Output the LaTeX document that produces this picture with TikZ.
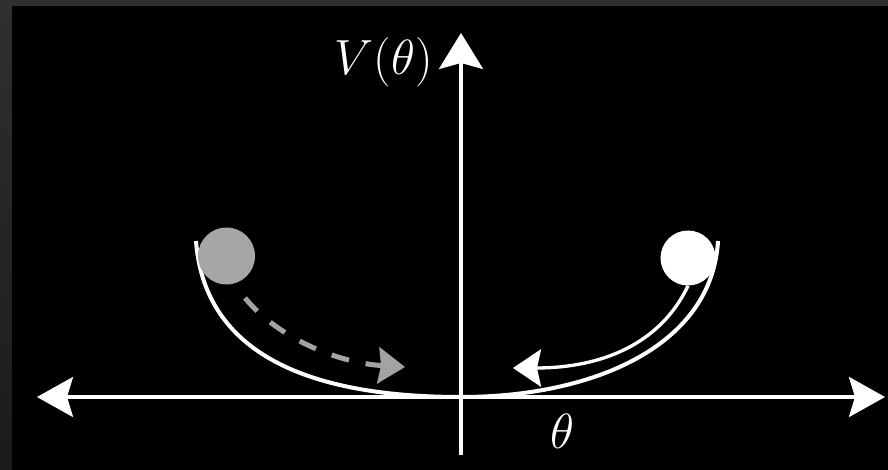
\documentclass[tikz,border=0pt]{standalone}
\usepackage{graphicx}
\usetikzlibrary{arrows.meta}
\definecolor{bandgray}{HTML}{2F2F2F}
\definecolor{banddark}{HTML}{1B1B1B}
\definecolor{ballgray}{HTML}{A6A6A6}
\definecolor{arrowgray}{HTML}{A3A3A3}
\newcommand{\biglbl}[1]{\scalebox{1.49}{\Huge #1}}
\begin{document}
\begin{tikzpicture}[x=0.75pt,y=-0.75pt,
  bigtip/.tip={Stealth[length=27pt,width=30pt,inset=4.5pt]},
  uptip/.tip={Stealth[length=27pt,width=33pt,inset=4.5pt]},
  axisline/.style={white, line width=2.4pt, bigtip-bigtip},
  axisup/.style={white, line width=2.4pt, -uptip},
  potential/.style={white, line width=3pt},
  ball/.style={circle, draw=none, inner sep=0pt},
  grayarrow/.style={arrowgray, line width=3.75pt, dash pattern=on 13.5pt off 12.75pt,
    -{Stealth[length=20pt,width=27pt,inset=2pt]}},
  whitearrow/.style={white, line width=2.5pt, -{Stealth[length=21pt,width=28pt,inset=3pt]}},
  lbl/.style={white, inner sep=0pt}]
\fill[bandgray] (0,0) rectangle (888,470);
\shade[top color=bandgray, bottom color=banddark] (0,6) rectangle (12,470);
\fill[black] (12,6) rectangle (888,470);
\useasboundingbox (0,0) rectangle (888,470);
% axes
\coordinate (xl) at (37,397);
\coordinate (xr) at (885,397);
\coordinate (yb) at (461,455);
\coordinate (yt) at (461,33);
\draw[axisline] (xl) -- (xr);
\draw[axisup] (yb) -- (yt);
\node[lbl, anchor=base east] (vlab) at (433,75) {\biglbl{$V(\theta)$}};
\node[lbl, anchor=base west] (thlab) at (550,448) {\biglbl{$\theta$}};
% potential curve
\coordinate (lt) at (196,241);
\coordinate (o) at (461,397);
\coordinate (rt) at (718,241);
\draw[potential] (lt) .. controls (205,360) and (320,397) .. (o)
  .. controls (595,397) and (712,345) .. (rt);
% balls
\node[ball, fill=ballgray, minimum size=42.75pt] (gb) at (226.5,256) {};
\node[ball, fill=white, minimum size=41.25pt] (wb) at (688,258) {};
% motion arrows
\coordinate (gs) at (245,298);
\coordinate (ge) at (405,367);
\draw[grayarrow] (gs) .. controls (280,340) and (340,363) .. (ge);
\coordinate (we) at (513,368);
\draw[whitearrow] (wb.south) .. controls (660,345) and (600,368) .. (we);
\end{tikzpicture}
\end{document}
